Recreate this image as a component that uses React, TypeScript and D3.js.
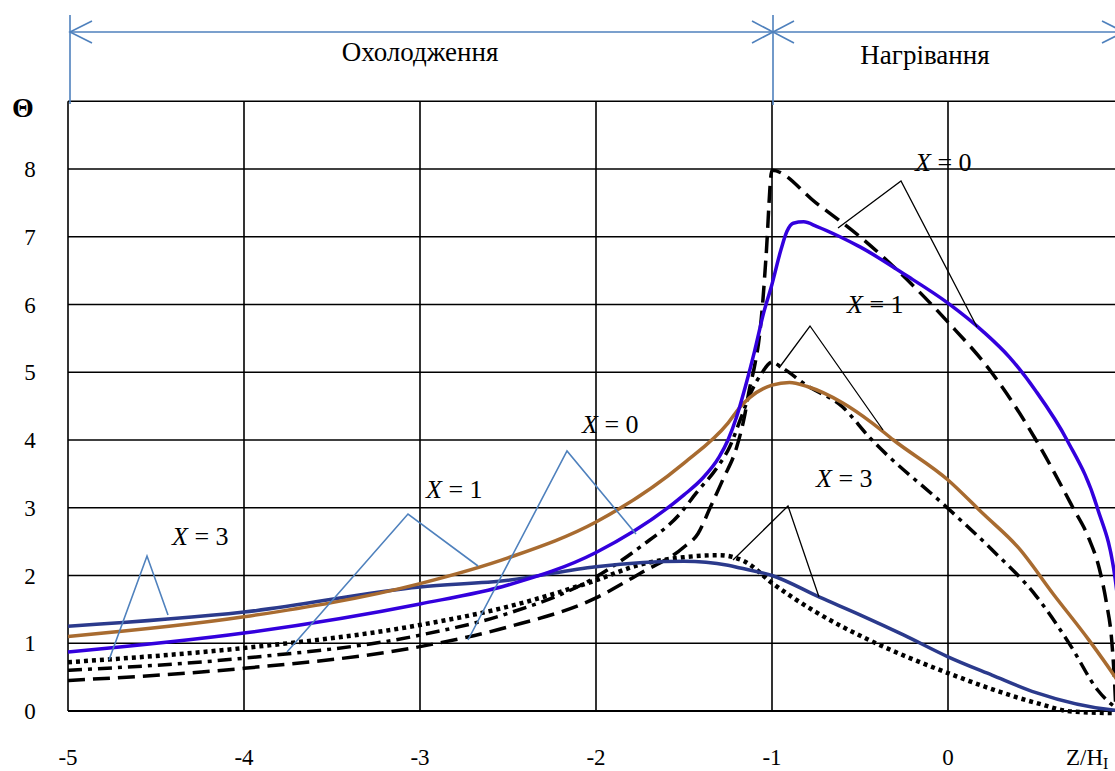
import React from "react";
import * as d3 from "d3";

const W = 1115;
const H = 771;

const xTicks = [-5, -4, -3, -2, -1, 0];
const yTicks = [0, 1, 2, 3, 4, 5, 6, 7, 8];
const gridX = [-5, -4, -3, -2, -1, 0, 1];
const gridY = [1, 2, 3, 4, 5, 6, 7, 8, 9];

// X = 0, solid blue
const blueX = [-5, -4, -3, -2.5, -2, -1.5, -1.4, -1.3, -1.25, -1.2, -1.15, -1.1, -1.05, -1.0, -0.95, -0.915, -0.88, -0.82, -0.744, -0.614, -0.5, -0.25, 0, 0.2, 0.35, 0.5, 0.676, 0.847, 0.95, 1.0];
const blueY = [0.87, 1.15, 1.58, 1.86, 2.34, 3.19, 3.42, 3.75, 4.0, 4.35, 4.8, 5.3, 5.85, 6.3, 6.8, 7.08, 7.2, 7.22, 7.15, 7.0, 6.85, 6.45, 6.02, 5.6, 5.22, 4.72, 4.0, 3.01, 1.95, 0.8];

// X = 0, black dashed
const dashX = [-5, -4, -3, -2.5, -2, -1.75, -1.5, -1.42, -1.35, -1.28, -1.2, -1.157, -1.129, -1.1, -1.072, -1.053, -1.034, -1.0, -0.75, -0.5, 0, 0.25, 0.5, 0.71, 0.8, 0.86, 0.9, 0.93, 0.945, 0.955, 1.0];
const dashY = [0.45, 0.63, 0.95, 1.24, 1.67, 2.03, 2.42, 2.62, 3.01, 3.41, 3.9, 4.34, 4.74, 5.08, 5.52, 6.02, 6.7, 7.98, 7.5, 7.0, 5.74, 4.99, 4.0, 3.0, 2.55, 2.1, 1.6, 1.05, 0.5, 0.05, 0.0];

// X = 1, brown solid
const brownX = [-5, -4, -3, -2.5, -2, -1.5, -1.25, -1.18, -1.125, -1.0, -0.9, -0.8, -0.6, -0.43, -0.31, 0, 0.2, 0.4, 0.6, 0.8, 0.95, 1.0];
const brownY = [1.1, 1.39, 1.88, 2.26, 2.79, 3.66, 4.25, 4.49, 4.63, 4.81, 4.85, 4.79, 4.55, 4.25, 4.0, 3.41, 2.91, 2.41, 1.72, 1.05, 0.5, 0.3];

// X = 1, black dash-dot
const ddX = [-5, -4, -3, -2.5, -2, -1.75, -1.52, -1.43, -1.31, -1.24, -1.18, -1.12, -1.06, -1.0, -0.95, -0.8, -0.6, -0.45, 0, 0.25, 0.5, 0.7, 0.85, 0.95, 1.0];
const ddY = [0.6, 0.78, 1.12, 1.44, 1.98, 2.42, 2.92, 3.22, 3.6, 3.9, 4.3, 4.7, 4.98, 5.15, 5.08, 4.8, 4.49, 4.05, 2.99, 2.38, 1.7, 0.95, 0.31, 0.06, 0.0];

// X = 3, navy solid
const navyX = [-5, -4, -3, -2.5, -2, -1.5, -1.25, -1.18, -1.0, -0.73, -0.5, -0.25, 0, 0.25, 0.5, 0.95, 1.0];
const navyY = [1.25, 1.46, 1.83, 1.93, 2.13, 2.21, 2.15, 2.11, 2.0, 1.68, 1.42, 1.12, 0.8, 0.53, 0.27, 0.01, 0.0];

// X = 3, black dotted
const dotX = [-5, -4, -3, -2.5, -2, -1.75, -1.5, -1.3, -1.15, -1.0, -0.75, -0.45, 0, 0.5, 0.71, 0.95, 1.0];
const dotY = [0.72, 0.93, 1.27, 1.54, 1.93, 2.16, 2.27, 2.3, 2.2, 1.89, 1.46, 1.05, 0.56, 0.12, -0.01, -0.03, -0.03];

const FONT = "'Liberation Serif', 'Times New Roman', 'DejaVu Serif', serif";

export default function App() {
  const x = d3.scaleLinear().domain([-5, 1]).range([68, 1124]);
  const y = d3.scaleLinear().domain([0, 9]).range([711, 101.25]);

  const mk = (xs: number[], ys: number[]) =>
    d3
      .line<number>()
      .x((_, i) => x(xs[i]))
      .y((d) => y(d))
      .curve(d3.curveMonotoneX)(ys) as string;

  const series = [
    { d: mk(dotX, dotY), stroke: "#000", dash: "4 4", w: 4.5 },
    { d: mk(ddX, ddY), stroke: "#000", dash: "14 6 4 6", w: 3.5 },
    { d: mk(dashX, dashY), stroke: "#000", dash: "17 8", w: 3.5 },
    { d: mk(navyX, navyY), stroke: "#2b3a8c", dash: null, w: 3.5 },
    { d: mk(brownX, brownY), stroke: "#a86b30", dash: null, w: 3.5 },
    { d: mk(blueX, blueY), stroke: "#3300dd", dash: null, w: 3.5 },
  ];

  const blue = "#4f81bd";

  const label = (tx: number, ty: number, v: string, fs = 26) => (
    <text x={tx} y={ty} fontFamily={FONT} fontSize={fs} fill="#000" xmlSpace="preserve">
      <tspan fontStyle="italic">X</tspan>
      <tspan>{" = " + v}</tspan>
    </text>
  );

  return (
    <div style={{ position: "absolute", left: 0, top: 0 }}>
      <svg width={W} height={H} style={{ display: "block", background: "#fff" }}>
        {/* grid */}
        {gridY.map((v) => (
          <line key={"gy" + v} x1={x(-5)} x2={x(1)} y1={y(v)} y2={y(v)} stroke="#000" strokeWidth={1.6} />
        ))}
        {gridX.map((v) => (
          <line key={"gx" + v} x1={x(v)} x2={x(v)} y1={y(9)} y2={y(0)} stroke="#000" strokeWidth={1.6} />
        ))}
        <line x1={x(-5)} x2={x(1)} y1={y(0)} y2={y(0)} stroke="#000" strokeWidth={2} />

        {/* series */}
        {series.map((s, i) => (
          <path
            key={i}
            d={s.d}
            fill="none"
            stroke={s.stroke}
            strokeWidth={s.w}
            strokeDasharray={s.dash || undefined}
          />
        ))}

        {/* y tick labels */}
        {yTicks.map((v) => (
          <text key={"yt" + v} x={30} y={y(v) + 8} textAnchor="middle" fontFamily={FONT} fontSize={23}>
            {v}
          </text>
        ))}
        <text x={23} y={117} textAnchor="middle" fontFamily={FONT} fontSize={28} fontWeight="bold">
          Θ
        </text>

        {/* x tick labels */}
        {xTicks.map((v) => (
          <text key={"xt" + v} x={x(v)} y={765} textAnchor="middle" fontFamily={FONT} fontSize={23}>
            {v}
          </text>
        ))}
        <text x={1066} y={765} fontFamily={FONT} fontSize={23}>
          Z/H<tspan fontSize={16} dy={4}>І</tspan>
        </text>

        {/* top region annotation */}
        <g stroke={blue} strokeWidth={1.6} fill="none">
          <line x1={70} x2={1124} y1={32} y2={32} />
          <line x1={70} x2={70} y1={15} y2={104} />
          <line x1={773} x2={773} y1={15} y2={105} />
          <polyline points="92,21 70,32 92,43" />
          <polyline points="752,21 773,32 752,43" />
          <polyline points="794,21 773,32 794,43" />
          <polyline points="1102,21 1124,32 1102,43" />
        </g>
        <text x={420} y={61} textAnchor="middle" fontFamily={FONT} fontSize={27}>
          Охолодження
        </text>
        <text x={925} y={64} textAnchor="middle" fontFamily={FONT} fontSize={27}>
          Нагрівання
        </text>

        {/* black leaders (heating) */}
        <g stroke="#000" strokeWidth={1.3} fill="none">
          <polyline points="838,228 901,181 977,327" />
          <polyline points="779,368 810,326 883,430" />
          <polyline points="733,560 788,506 819,597" />
        </g>
        {label(915, 171, "0")}
        {label(847, 313, "1")}
        {label(816, 487, "3")}

        {/* blue leaders (cooling) */}
        <g stroke={blue} strokeWidth={1.6} fill="none">
          <polyline points="109,660 147,556 168,615" />
          <polyline points="287,652 408,514 478,566" />
          <polyline points="468,640 567,451 636,534" />
        </g>
        {label(172, 545, "3")}
        {label(426, 498, "1")}
        {label(582, 433, "0")}
      </svg>
    </div>
  );
}
